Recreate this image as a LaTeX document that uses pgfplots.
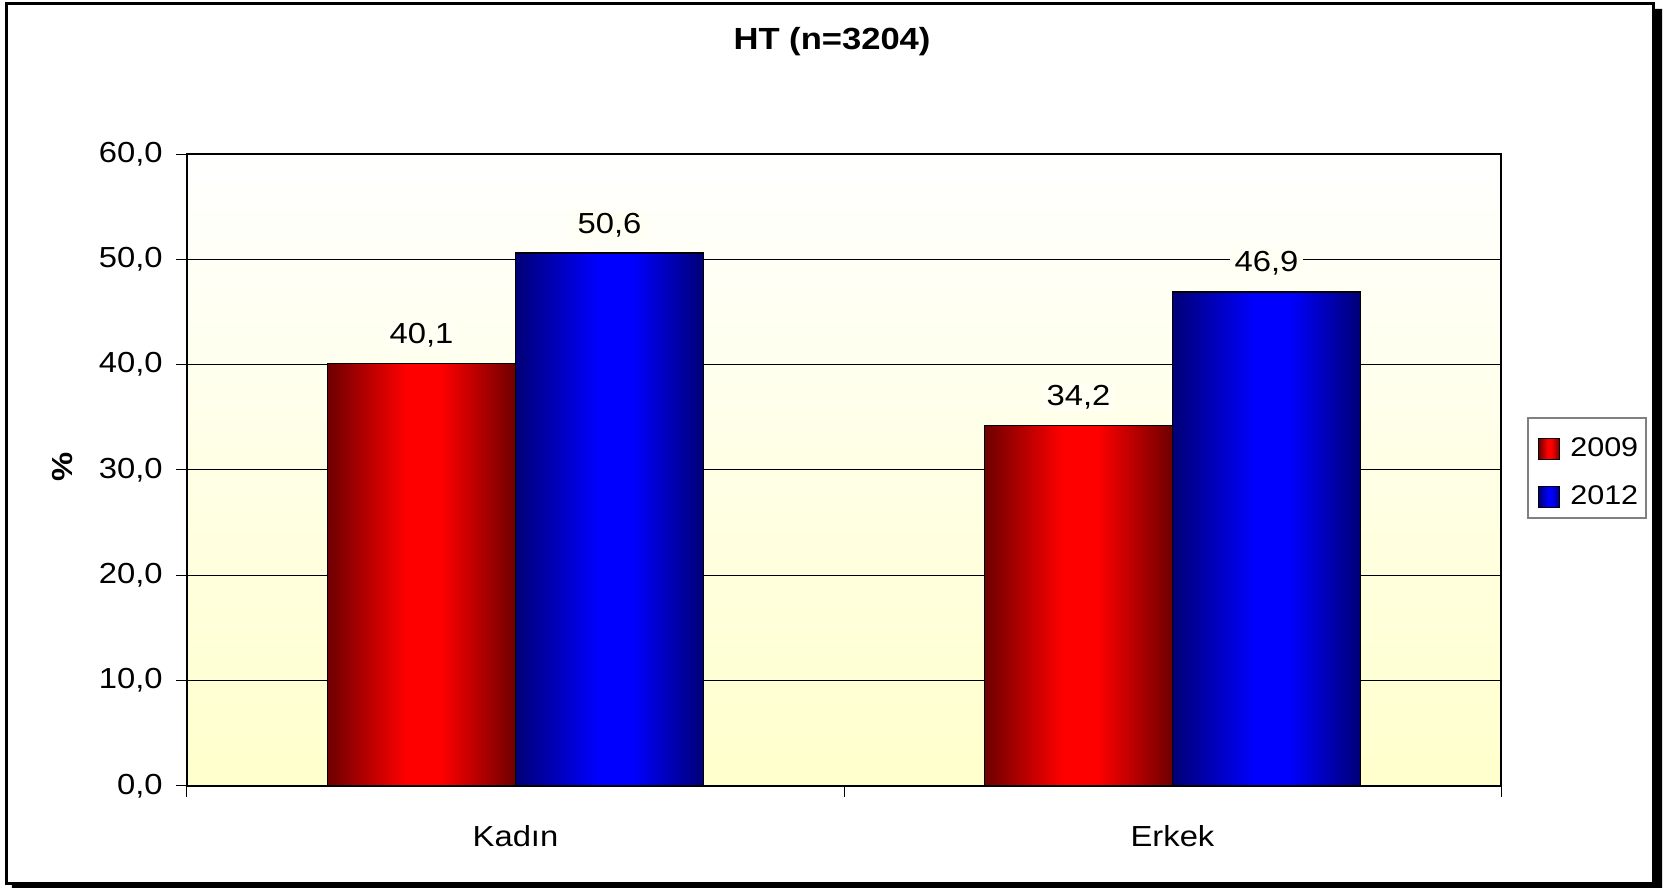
\documentclass[border=0pt]{standalone}
\usepackage{pgfplots}
\pgfplotsset{compat=1.18}
\usepackage{fontspec}
\setmainfont[FakeStretch=1.13]{Liberation Sans}
\definecolor{dred}{RGB}{110,0,0}
\definecolor{bred}{RGB}{255,0,0}
\definecolor{dblue}{RGB}{0,0,118}
\definecolor{bblue}{RGB}{0,0,255}
\definecolor{bgyellow}{RGB}{255,255,204}
\definecolor{lblbg}{RGB}{255,255,244}
\pgfdeclarehorizontalshading{redsh}{100bp}{color(0bp)=(dred); color(25bp)=(dred); color(46bp)=(bred); color(55bp)=(bred); color(75bp)=(dred); color(100bp)=(dred)}
\pgfdeclarehorizontalshading{bluesh}{100bp}{color(0bp)=(dblue); color(25bp)=(dblue); color(47bp)=(bblue); color(56bp)=(bblue); color(75bp)=(dblue); color(100bp)=(dblue)}
\pgfplotsset{
  redbar/.style={draw=black, line width=0.6pt, shade, shading=redsh, shading angle=0},
  bluebar/.style={draw=black, line width=0.6pt, shade, shading=bluesh, shading angle=0},
}
\newcommand{\lf}{\fontsize{14.5pt}{17pt}\selectfont}
\newcommand{\legf}{\fontsize{13.5pt}{16pt}\selectfont}
\begin{document}
\begin{tikzpicture}[font=\lf]
\useasboundingbox (-93.5pt,-51pt) rectangle (740pt,393pt);
\fill[black] (733pt,388.5pt) -- (737.5pt,388.5pt) -- (737.5pt,-51pt) -- (-87.5pt,-51pt) -- (-87.5pt,-49pt) -- (733pt,-49pt) -- cycle;
\draw[line width=1.5pt, fill=white] (-90pt,-49pt) rectangle (733pt,391pt);
% legend frame
\draw[draw={rgb,255:red,128;green,128;blue,128}, line width=0.6pt] (670.5pt,134pt) rectangle (729.5pt,184pt);
\begin{axis}[
  at={(0pt,0pt)}, anchor=south west,
  scale only axis, width=657pt, height=316pt,
  xmin=-0.5, xmax=1.5, ymin=0, ymax=60,
  xtick={-0.5,0.5,1.5}, x tick label as interval,
  xticklabels={Kadın,Erkek},
  ytick={0,10,...,60},
  /pgf/number format/assume math mode=true,
  yticklabel={\pgfmathprintnumber[fixed,zerofill,precision=1,use comma]{\tick}},
  tick align=outside, xtick pos=bottom, ytick pos=left,
  major tick length=5.5pt,
  tick style={black, line width=0.5pt},
  ymajorgrids, grid style={black, line width=0.5pt},
  axis line style={black, line width=0.8pt},
  axis background/.style={top color=white, bottom color=bgyellow},
  yticklabel style={anchor=east, inner sep=0pt, xshift=-6.5pt},
  xticklabel style={anchor=base, yshift=-25pt},
  title={\fontsize{15.3pt}{18pt}\selectfont\bfseries HT (n=3204)},
  title style={at={(axis description cs:0.4909,1.1456)}, anchor=base},
  ylabel={\bfseries \%},
  ylabel style={at={(axis description cs:-0.0951,0.505)}, anchor=center, rotate=0},
  legend style={at={(axis description cs:1.0205,0.582)}, anchor=north west,
    font=\legf, draw=none, fill=none,
    inner xsep=5pt, inner ysep=9.5pt, row sep=13pt,
    nodes={inner sep=0pt},
    /tikz/every odd column/.append style={column sep=5pt}},
  legend cell align=left,
  legend image code/.code={\draw[#1, line width=0.5pt] (0pt,-5.25pt) rectangle (10.5pt,5.25pt);},
]
% Kadin
\addplot[redbar, forget plot] coordinates {(-0.286,0) (-0.286,40.1) (0,40.1) (0,0)} \closedcycle;
\addplot[bluebar, forget plot] coordinates {(0,0) (0,50.6) (0.286,50.6) (0.286,0)} \closedcycle;
% Erkek
\addplot[redbar, forget plot] coordinates {(0.714,0) (0.714,34.2) (1,34.2) (1,0)} \closedcycle;
\addplot[bluebar, forget plot] coordinates {(1,0) (1,46.9) (1.286,46.9) (1.286,0)} \closedcycle;
% value labels
\addplot[draw=none, mark=none, forget plot,
  nodes near coords={\pgfmathprintnumber[fixed,zerofill,precision=1,use comma]{\pgfplotspointmeta}},
  nodes near coords style={anchor=base, yshift=10pt, fill=lblbg, inner xsep=2.5pt, inner ysep=1pt, text=black}]
  coordinates {(-0.143,40.1) (0.143,50.6) (0.857,34.2) (1.143,46.9)};
\addlegendimage{redbar}
\addlegendentry{\legf 2009}
\addlegendimage{bluebar}
\addlegendentry{\legf 2012}
\end{axis}
\end{tikzpicture}
\end{document}
